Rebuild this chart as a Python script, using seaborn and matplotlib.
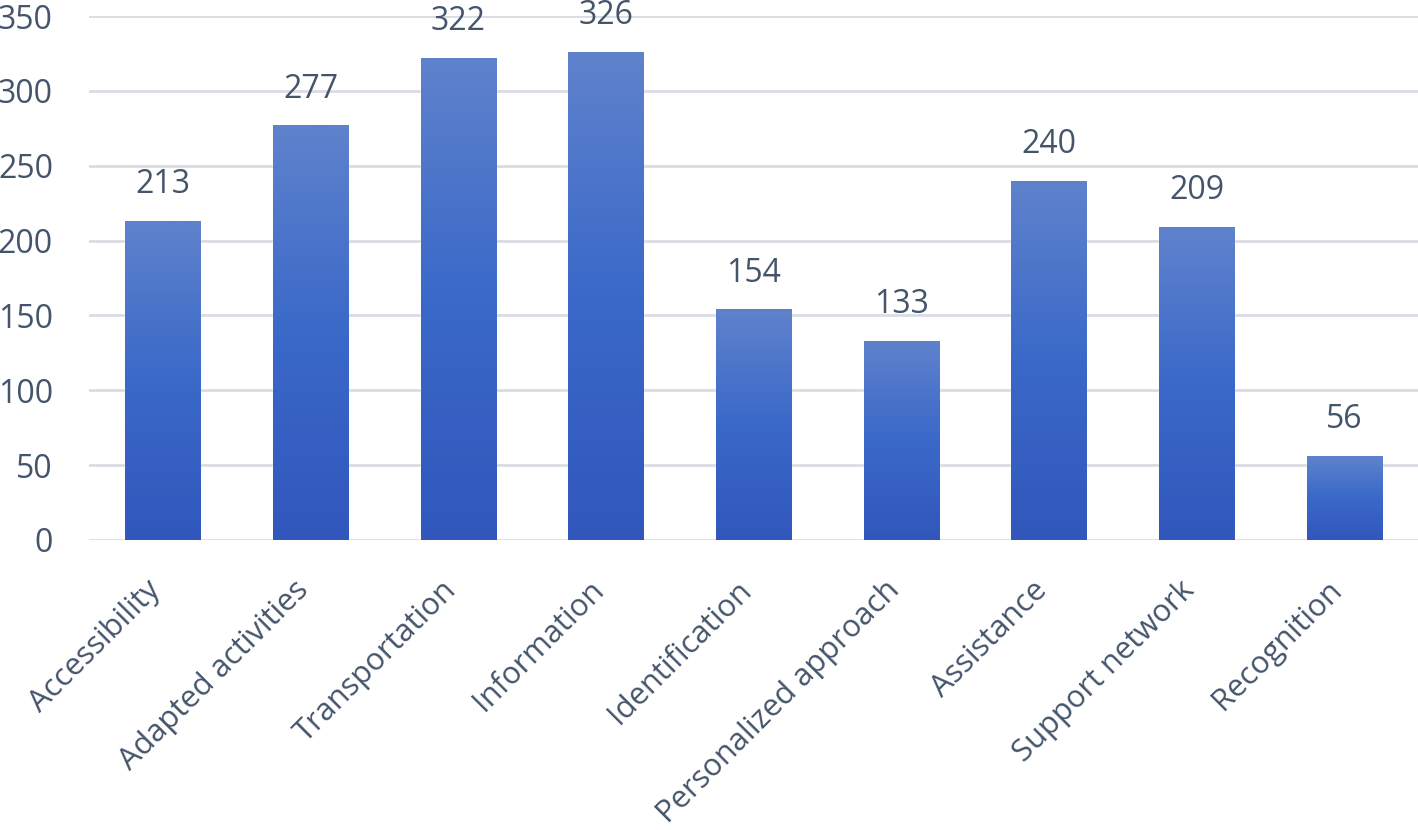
import numpy as np
import matplotlib
matplotlib.use("Agg")
import matplotlib.pyplot as plt
import matplotlib.transforms as mtransforms
import seaborn as sns
from matplotlib.colors import LinearSegmentedColormap

categories = ["Accessibility", "Adapted activities", "Transportation", "Information",
              "Identification", "Personalized approach", "Assistance",
              "Support network", "Recognition"]
counts = [213, 277, 322, 326, 154, 133, 240, 209, 56]
y_ticks = [0, 50, 100, 150, 200, 250, 300, 350]

TEXT = "#44546A"
GRID = "#D9DDE3"

sns.set_theme(style="white")
plt.rcParams["font.family"] = ["Open Sans", "DejaVu Sans"]

fig = plt.figure(figsize=(14.18, 8.30), dpi=100)
ax = fig.add_axes([89 / 1418, 1 - 540 / 830, 1 - 89 / 1418, (540 - 16) / 830])

sns.barplot(x=categories, y=counts, color="#3F6CC8", width=0.51, ax=ax, zorder=2)

# vertical gradient on each bar, lighter at the top
grad = LinearSegmentedColormap.from_list("bar", ["#3157BC", "#3A69C9", "#5F82CC"])
g = np.linspace(0, 1, 256).reshape(-1, 1)
for p in ax.patches:
    x0, y0 = p.get_x(), p.get_y()
    w, h = p.get_width(), p.get_height()
    im = ax.imshow(g, cmap=grad, origin="lower", aspect="auto",
                   extent=[x0, x0 + w, y0, y0 + h], zorder=3)
    im.set_clip_path(p)
    ax.annotate(f"{h:.0f}", (x0 + w / 2, h), xytext=(0, 20), textcoords="offset points",
                ha="center", va="baseline", fontsize=23, color=TEXT)

ax.set_xlim(-0.5, len(categories) - 0.5)
ax.set_ylim(0, 350)
ax.set_yticks(y_ticks)
ax.yaxis.grid(True, color=GRID, linewidth=2)
ax.set_axisbelow(True)
for s in ax.spines.values():
    s.set_visible(False)
ax.tick_params(axis="y", length=0, labelsize=23, labelcolor=TEXT, pad=26)
ax.tick_params(axis="x", length=0, labelsize=22.2, labelcolor=TEXT, pad=26)

# nudge the rotated labels so their ends sit just under the bars
shift = mtransforms.ScaledTranslation(-17 / 100, 1 / 100, fig.dpi_scale_trans)
for lab in ax.get_xticklabels():
    lab.set_rotation(45)
    lab.set_ha("right")
    lab.set_va("top")
    lab.set_rotation_mode("anchor")
    lab.set_transform(lab.get_transform() + shift)

fig.savefig("out.png", dpi=100)
